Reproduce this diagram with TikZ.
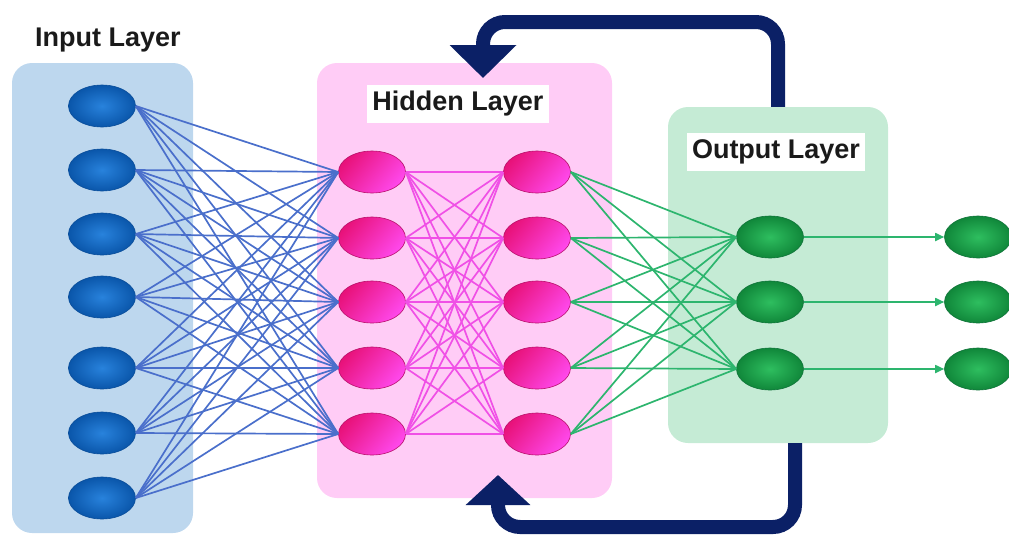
\documentclass[tikz,border=0pt]{standalone}
\usepackage{fontspec}
\setmainfont{Liberation Sans}
\usetikzlibrary{shapes.geometric,arrows.meta}

\definecolor{inboxfill}{HTML}{BDD7EE}
\definecolor{hidboxfill}{HTML}{FFCCF6}
\definecolor{outboxfill}{HTML}{C5EBD5}
\definecolor{navy}{HTML}{0B2066}
\definecolor{bluelink}{HTML}{4A6FCB}
\definecolor{pinklink}{HTML}{F050E6}
\definecolor{greenlink}{HTML}{2DB56E}
\definecolor{labeltext}{HTML}{1A1A1A}
\definecolor{pinkdark}{HTML}{E8127A}
\definecolor{pinklight}{HTML}{FF48EC}
\definecolor{pinkrim}{HTML}{B8106A}
\definecolor{bluerim}{HTML}{0A4E9A}
\definecolor{greenrim}{HTML}{10743A}

\tikzset{
  layerbox/.style={rounded corners=20pt, inner sep=0pt, draw=none},
  neuron/.style={ellipse, minimum width=67pt, minimum height=42pt, inner sep=0pt, line width=0.6pt},
  inneuron/.style={neuron, draw=bluerim, inner color={rgb,255:red,40;green,130;blue,220}, outer color={rgb,255:red,10;green,86;blue,170}},
  hidneuron/.style={neuron, draw=pinkrim, top color=pinkdark, bottom color=pinklight, shading angle=50},
  outneuron/.style={neuron, draw=greenrim, inner color={rgb,255:red,46;green,190;blue,95}, outer color={rgb,255:red,16;green,135;blue,58}},
  layerlabel/.style={font=\fontsize{27}{32}\selectfont\bfseries, text=labeltext, inner xsep=5pt, minimum height=38pt},
  link/.style={line width=1.7pt},
  feedback/.style={draw=navy, line width=14pt, rounded corners=22pt},
}

\begin{document}
\begin{tikzpicture}[x=1pt, y=-1pt]
\useasboundingbox (0,0) rectangle (1009,536);

% layer panels
\node[layerbox, fill=inboxfill, minimum width=181pt, minimum height=470pt] (inbox) at (102.5,298) {};
\node[layerbox, fill=hidboxfill, minimum width=295pt, minimum height=435pt] (hidbox) at (464.5,280.5) {};
\node[layerbox, fill=outboxfill, minimum width=220pt, minimum height=336pt] (outbox) at (778,275) {};

% layer titles
\node[layerlabel] (inlabel) at (108,40) {Input Layer};
\node[layerlabel, fill=white] (hidlabel) at (458,104) {Hidden Layer};
\node[layerlabel, fill=white] (outlabel) at (776,152) {Output Layer};

% input neurons
\foreach \y [count=\i] in {106,170,234,297,368,433,498}
  \node[inneuron] (i\i) at (102,\y) {};

% hidden neurons, two columns
\foreach \y [count=\i] in {172,238,302,368,434} {
  \node[hidneuron] (h\i) at (372,\y) {};
  \node[hidneuron] (k\i) at (537,\y) {};
}

% output neurons and their targets
\foreach \y [count=\i] in {237,302,369} {
  \node[outneuron] (o\i) at (770,\y) {};
  \node[outneuron] (f\i) at (978,\y) {};
}

% weights: input -> hidden 1
\foreach \i in {1,...,7}
  \foreach \j in {1,...,5}
    \draw[link, bluelink] (i\i.east) -- (h\j.west);

% weights: hidden 1 -> hidden 2
\foreach \i in {1,...,5}
  \foreach \j in {1,...,5}
    \draw[link, pinklink] (h\i.east) -- (k\j.west);

% weights: hidden 2 -> output
\foreach \i in {1,...,5}
  \foreach \j in {1,...,3}
    \draw[link, greenlink] (k\i.east) -- (o\j.west);

% outputs
\foreach \i in {1,2,3}
  \draw[link, greenlink, -{Triangle[length=9pt,width=8pt]}] (o\i.east) -- (f\i.west);

% recurrent feedback loops
\coordinate (toptip) at (483,78);
\coordinate (bottip) at (498,475);
\draw[feedback, -{Triangle[length=33pt,width=65pt]}]
  (outbox.north) -- (778,22) -- (toptip |- 0,22) -- (toptip);
\draw[feedback, -{Triangle[length=30pt,width=63pt]}]
  (795,443) -- (795,527) -- (bottip |- 0,527) -- (bottip);
\end{tikzpicture}
\end{document}
